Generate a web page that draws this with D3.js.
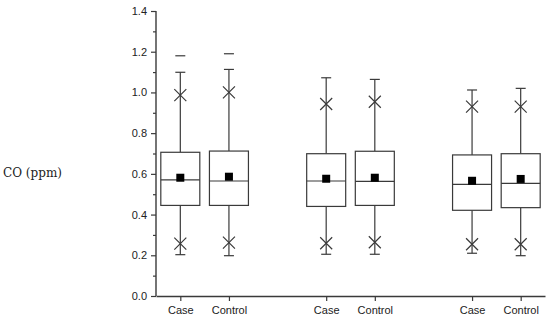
<!DOCTYPE html>
<html>
<head>
<meta charset="utf-8">
<script src="https://cdn.jsdelivr.net/npm/d3@7"></script>
<style>
  html, body { margin: 0; padding: 0; background: #fff; }
  svg { display: block; }
</style>
</head>
<body>
<div id="chart"></div>
<script>
// CO (ppm) box plots, three pairs of Case / Control
const labels   = ['Case', 'Control', 'Case', 'Control', 'Case', 'Control'];
const slots    = [1, 2, 4, 5, 7, 8];
const whiskLo  = [0.203, 0.198, 0.205, 0.205, 0.210, 0.198];
const q1       = [0.445, 0.445, 0.440, 0.445, 0.421, 0.434];
const median   = [0.570, 0.565, 0.565, 0.563, 0.548, 0.553];
const q3       = [0.706, 0.712, 0.699, 0.711, 0.693, 0.699];
const whiskHi  = [1.099, 1.113, 1.072, 1.064, 1.012, 1.020];
const mean     = [0.581, 0.586, 0.576, 0.581, 0.566, 0.575];
const pct1     = [0.257, 0.262, 0.259, 0.264, 0.254, 0.254];
const pct99    = [0.987, 1.000, 0.943, 0.954, 0.930, 0.930];
const maxVal   = [1.180, 1.190, null, null, null, null];
const yTicks   = [0.0, 0.2, 0.4, 0.6, 0.8, 1.0, 1.2, 1.4];
const yMinor   = [0.1, 0.3, 0.5, 0.7, 0.9, 1.1, 1.3];

const W = 550, H = 321;
const ink = '#3a3a3a';
const svg = d3.select('#chart').append('svg').attr('width', W).attr('height', H);

const x = d3.scaleLinear().domain([0.5, 8.5]).range([156, 545]);
const y = d3.scaleLinear().domain([0, 1.4]).range([296, 11]);
const boxW = 39;

// y axis
const yAxis = svg.append('g').attr('transform', 'translate(156,0)')
  .call(d3.axisLeft(y).tickValues(yTicks).tickFormat(d3.format('.1f')).tickSize(5).tickPadding(4));
svg.append('g').attr('transform', 'translate(156,0)')
  .call(d3.axisLeft(y).tickValues(yMinor).tickFormat('').tickSize(3))
  .select('.domain').remove();

// x axis
const xAxis = svg.append('g').attr('transform', 'translate(0,296)')
  .call(d3.axisBottom(x).tickValues(slots).tickFormat((d, i) => labels[i]).tickSize(5).tickPadding(5).tickSizeOuter(0));

svg.selectAll('.domain').attr('stroke', ink).attr('stroke-width', 1.4);
svg.selectAll('.tick line').attr('stroke', ink).attr('stroke-width', 1.2);
svg.selectAll('.tick text').attr('fill', '#222').attr('font-family', 'Liberation Sans, Arial, sans-serif').attr('font-size', 11);
yAxis.select('.domain').attr('d', `M0,${y(1.4)}V${y(0)}`);

svg.append('text').attr('x', 3).attr('y', 177)
  .attr('font-family', '"DejaVu Serif", "Liberation Serif", serif')
  .attr('font-size', 12).attr('fill', '#222').text('CO (ppm)');

const g = svg.append('g').attr('stroke', ink).attr('fill', 'none').attr('stroke-width', 1.2);
slots.forEach((s, i) => {
  const cx = x(s);
  // whiskers
  g.append('line').attr('x1', cx).attr('x2', cx).attr('y1', y(q3[i])).attr('y2', y(whiskHi[i]));
  g.append('line').attr('x1', cx).attr('x2', cx).attr('y1', y(q1[i])).attr('y2', y(whiskLo[i]));
  g.append('line').attr('x1', cx - 5).attr('x2', cx + 5).attr('y1', y(whiskHi[i])).attr('y2', y(whiskHi[i]));
  g.append('line').attr('x1', cx - 5).attr('x2', cx + 5).attr('y1', y(whiskLo[i])).attr('y2', y(whiskLo[i]));
  // box
  g.append('rect').attr('x', cx - boxW / 2).attr('y', y(q3[i]))
    .attr('width', boxW).attr('height', y(q1[i]) - y(q3[i])).attr('fill', '#fff');
  g.append('line').attr('x1', cx - boxW / 2).attr('x2', cx + boxW / 2)
    .attr('y1', y(median[i])).attr('y2', y(median[i]));
  // mean
  g.append('rect').attr('x', cx - 4).attr('y', y(mean[i]) - 4).attr('width', 8).attr('height', 8)
    .attr('fill', '#000').attr('stroke', 'none');
  // 1% / 99% crosses
  [pct1[i], pct99[i]].forEach(v => {
    const py = y(v);
    g.append('path').attr('d', `M${cx - 6},${py - 6}L${cx + 6},${py + 6}M${cx - 6},${py + 6}L${cx + 6},${py - 6}`);
  });
  // max dash
  if (maxVal[i] != null) {
    g.append('line').attr('x1', cx - 5).attr('x2', cx + 5).attr('y1', y(maxVal[i])).attr('y2', y(maxVal[i]));
  }
});
</script>
</body>
</html>
